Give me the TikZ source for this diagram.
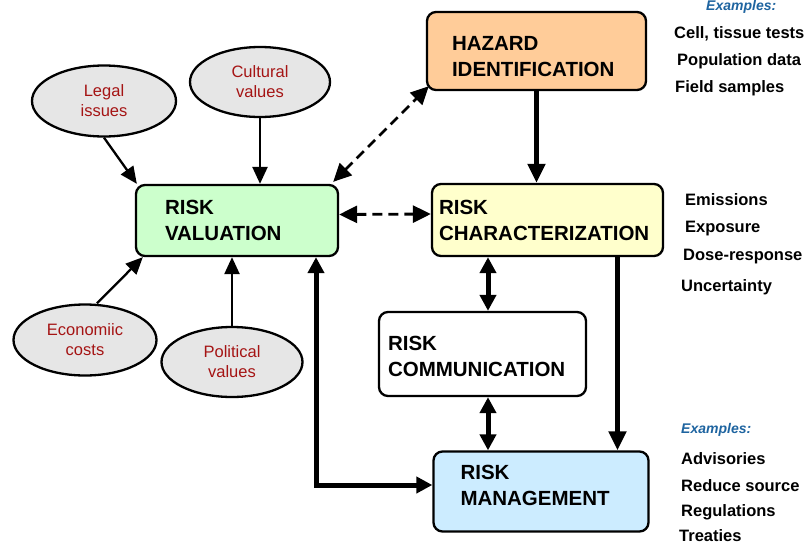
\documentclass[tikz,border=0pt]{standalone}
\usepackage{fontspec}
\setmainfont{Liberation Sans}
\usepackage{xcolor}
\usepackage{tikz}
\usetikzlibrary{shapes.geometric,arrows.meta,positioning,calc}
\definecolor{hazardorange}{RGB}{255, 204, 153}
\definecolor{valuationgreen}{RGB}{204, 255, 204}
\definecolor{charyellow}{RGB}{255, 255, 204}
\definecolor{managementblue}{RGB}{204, 236, 255}
\definecolor{factorgray}{RGB}{230, 230, 230}
\definecolor{factorred}{RGB}{165, 20, 20}
\definecolor{examplesblue}{RGB}{30, 100, 160}
% struts to move box text up or down
\newcommand{\toppad}[1]{\rule{0pt}{#1}}
\newcommand{\botpad}[1]{\rule[-#1]{0pt}{#1}}

\begin{document}
\begin{tikzpicture}[x=1pt, y=-1pt,
        box/.style={draw, line width=2.3pt, rounded corners=9pt, align=left, inner ysep=0pt,
            font=\bfseries\fontsize{20.5}{26}\selectfont},
        factor/.style={ellipse, draw, line width=2.3pt, fill=factorgray, text=factorred,
            align=center, inner sep=0pt, font=\fontsize{16.5}{20}\selectfont},
        note/.style={anchor=base west, inner sep=0pt, font=\bfseries\fontsize{16.5}{20}\selectfont},
        examples/.style={note, text=examplesblue, font=\bfseries\itshape\fontsize{14}{16}\selectfont},
        thin/.style={line width=2.3pt, -{Triangle[length=17pt,width=15pt]}},
        heavy/.style={line width=5pt, -{Triangle[length=19pt,width=17pt]}},
        heavyboth/.style={line width=5pt, {Triangle[length=16pt,width=16pt]}-{Triangle[length=16pt,width=16pt]}},
        dashboth/.style={line width=2.8pt, dash pattern=on 10pt off 6pt,
            {Triangle[length=18pt,width=17pt]}-{Triangle[length=18pt,width=17pt]}}]
        \useasboundingbox (0,0) rectangle (807,544);

        % Main boxes
        \node[box, fill=hazardorange, text width=169pt, inner xsep=25pt, minimum height=78pt] (hazard) at (536.5,51) {\toppad{26pt}HAZARD\\IDENTIFICATION};
        \node[box, fill=valuationgreen, text width=144pt, inner xsep=29pt, minimum height=71pt] (valuation) at (237,220.5) {RISK\\VALUATION};
        \node[box, fill=charyellow, text width=217pt, inner xsep=7pt, minimum height=72pt] (charact) at (547.5,220) {RISK\\CHARACTERIZATION};
        \node[box, fill=white, text width=189pt, inner xsep=9pt, minimum height=84pt] (communication) at (482.5,354) {\toppad{20pt}RISK\\COMMUNICATION};
        \node[box, fill=managementblue, text width=161pt, inner xsep=27pt, minimum height=80pt] (management) at (541,491.5) {RISK\\MANAGEMENT\botpad{13pt}};

        % Valuation factors
        \node[factor, minimum width=144pt, minimum height=71pt] (legal) at (104,101) {Legal\\issues};
        \node[factor, minimum width=140pt, minimum height=70pt] (cultural) at (260,82) {Cultural\\values};
        \node[factor, minimum width=143pt, minimum height=71pt] (economic) at (85,340) {Economiic\\costs};
        \node[factor, minimum width=141pt, minimum height=70pt] (political) at (232,362) {Political\\values};

        \draw[thin] (legal.south) -- ([xshift=2pt]valuation.north west);
        \draw[thin] (cultural.south) -- (cultural.south |- valuation.north);
        \draw[thin] ([xshift=12pt]economic.north) -- ([xshift=8pt]valuation.south west);
        \draw[thin] (political.north) -- (political.north |- valuation.south);

        % Links between boxes
        \draw[dashboth] ([shift={(-6,-2)}]valuation.north east) -- ([shift={(3,-5)}]hazard.south west);
        \draw[dashboth] ([yshift=6pt]valuation.east) -- ([yshift=6pt]charact.west);
        \draw[heavy] (hazard.south) -- (hazard.south |- charact.north);
        \draw[heavyboth] ([xshift=5.5pt]communication.north) -- ([xshift=5.5pt]communication.north |- charact.south);
        \draw[heavyboth] ([xshift=5.5pt]communication.south) -- ([xshift=5.5pt]communication.south |- management.north);
        \draw[heavy] ([xshift=70pt]charact.south) -- ([xshift=70pt]charact.south |- management.north);
        \draw[heavyboth] ([yshift=6.5pt]management.west) -| ([xshift=79pt]valuation.south);

        % Examples, hazard identification
        \node[examples] (hazex) at (706,10) {Examples:};
        \node[note] (cell) at (674,38) {Cell, tissue tests};
        \node[note] (population) at (677,65) {Population data};
        \node[note] (field) at (675,92) {Field samples};

        % Characterization inputs
        \node[note] (emissions) at (685,205) {Emissions};
        \node[note] (exposure) at (685,232) {Exposure};
        \node[note] (dose) at (683,260) {Dose-response};
        \node[note] (uncertainty) at (681,291) {Uncertainty};

        % Examples, management
        \node[examples] (mgmtex) at (681,433) {Examples:};
        \node[note] (advisories) at (681,464) {Advisories};
        \node[note] (reduce) at (681,491) {Reduce source};
        \node[note] (regulations) at (681,516) {Regulations};
        \node[note] (treaties) at (679,541) {Treaties};
    \end{tikzpicture}
\end{document}
